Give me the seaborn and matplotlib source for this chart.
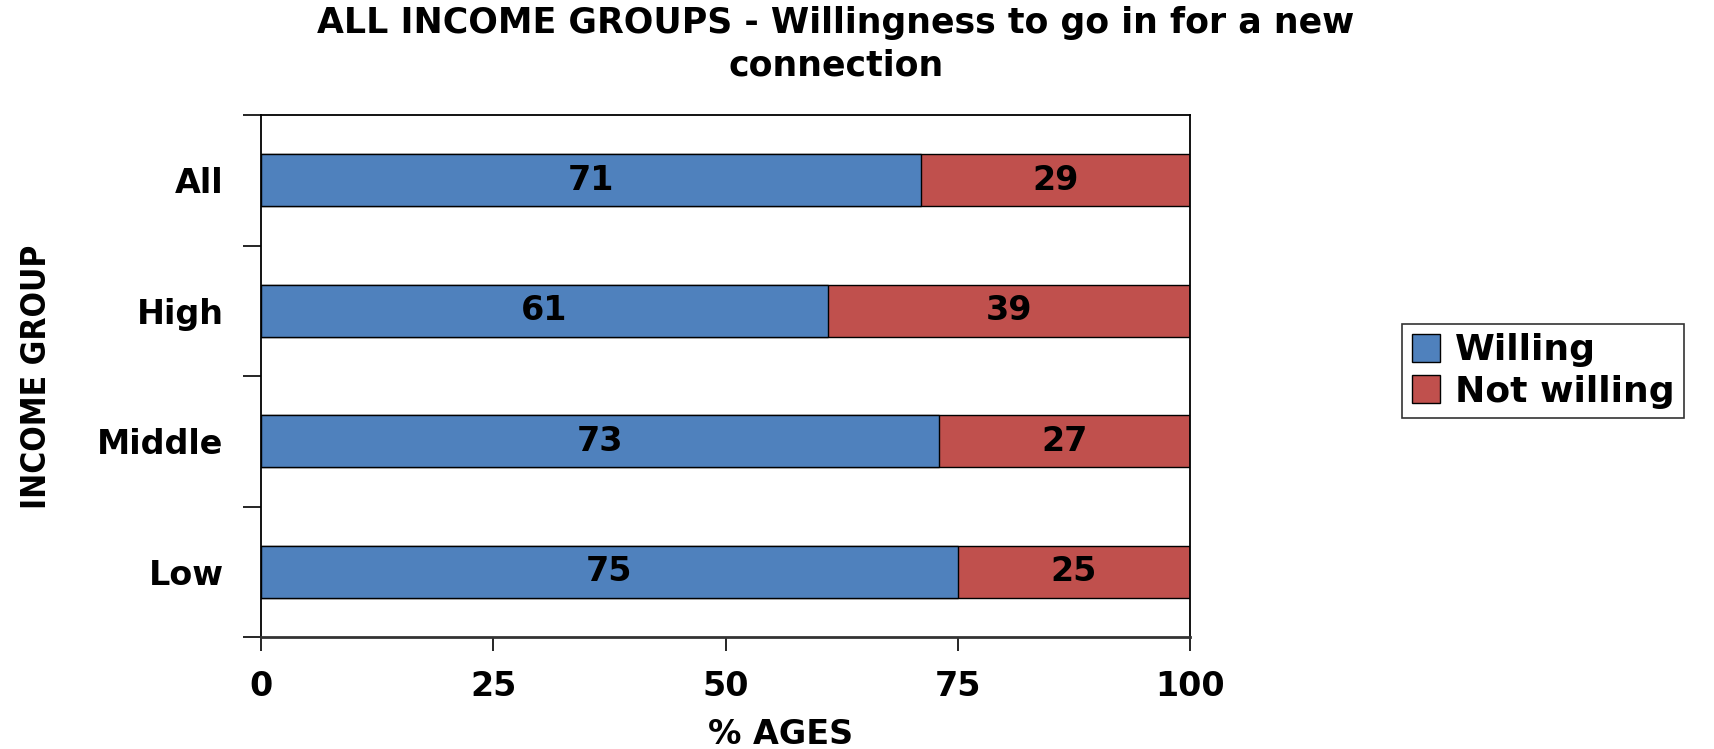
import matplotlib
matplotlib.use("Agg")
import matplotlib.pyplot as plt
import seaborn as sns
import pandas as pd

# Survey results by income group (percent of respondents)
groups = ["All", "High", "Middle", "Low"]
willing = [71, 61, 73, 75]
not_willing = [29, 39, 27, 25]
x_ticks = [0, 25, 50, 75, 100]

title = "ALL INCOME GROUPS - Willingness to go in for a new\nconnection"
blue = "#4F81BD"
red = "#C0504D"
fs = 24

sns.set_theme(style="white")
plt.rcParams["font.family"] = ["DejaVu Sans"]
plt.rcParams["font.weight"] = "bold"
plt.rcParams["text.color"] = "black"
plt.rcParams["xtick.color"] = "black"
plt.rcParams["ytick.color"] = "black"
plt.rcParams["axes.labelcolor"] = "black"

df = pd.DataFrame({"group": groups, "willing": willing, "not_willing": not_willing})
df["total"] = df["willing"] + df["not_willing"]

fig = plt.figure(figsize=(17.14, 7.49), dpi=100)
ax = fig.add_axes([261 / 1714, 1 - 637 / 749, (1190 - 261) / 1714, (637 - 115) / 749])

# stacked horizontal bars: full total in red, willing share drawn over it in blue
sns.barplot(data=df, x="total", y="group", orient="h", color=red, width=0.4,
            edgecolor="black", linewidth=1.0, saturation=1, ax=ax)
sns.barplot(data=df, x="willing", y="group", orient="h", color=blue, width=0.4,
            edgecolor="black", linewidth=1.0, saturation=1, ax=ax)

for i, (w, n) in enumerate(zip(willing, not_willing)):
    ax.text(w / 2, i, f"{w}", ha="center", va="center", fontsize=fs, fontweight="heavy", color="black")
    ax.text(w + n / 2, i, f"{n}", ha="center", va="center", fontsize=fs, fontweight="heavy", color="black")

ax.set_xlim(0, 100)
ax.set_ylim(len(groups) - 0.5, -0.5)
ax.set_xticks(x_ticks)
ax.set_xticklabels([str(t) for t in x_ticks], fontsize=fs, fontweight="bold")
ax.set_yticks(range(len(groups)))
ax.set_yticklabels(groups, fontsize=fs, fontweight="bold")
ax.set_yticks([i - 0.5 for i in range(len(groups) + 1)], minor=True)
ax.tick_params(axis="y", which="major", length=0, pad=27)
ax.tick_params(axis="y", which="minor", length=13, width=1.2, color="black", left=True)
ax.tick_params(axis="x", which="major", length=10, width=1.2, color="black", bottom=True, pad=14)
ax.set_xlabel("")
ax.set_ylabel("")
for side in ["left", "right", "top"]:
    ax.spines[side].set_visible(True)
    ax.spines[side].set_color("black")
    ax.spines[side].set_linewidth(1.3)
ax.spines["bottom"].set_color("#333333")
ax.spines["bottom"].set_linewidth(2.0)

fig.text(836 / 1714, 1 - 44 / 749, title, ha="center", va="center", fontsize=25,
         fontweight="bold", linespacing=1.3)
fig.text(781 / 1714, 1 - 734 / 749, "% AGES", ha="center", va="center", fontsize=fs,
         fontweight="bold")
fig.text(37 / 1714, 1 - 377 / 749, "INCOME GROUP", ha="center", va="center", rotation=90,
         fontsize=24, fontweight="bold", fontstretch="condensed",
         family=["Liberation Sans Narrow", "DejaVu Sans"])

handles = [plt.Rectangle((0, 0), 1, 1, facecolor=blue, edgecolor="black", linewidth=1),
           plt.Rectangle((0, 0), 1, 1, facecolor=red, edgecolor="black", linewidth=1)]
leg = fig.legend(handles, ["Willing", "Not willing"], loc="center",
                 bbox_to_anchor=(1543 / 1714, 1 - 371 / 749),
                 prop={"size": 26, "weight": "bold"}, frameon=True, fancybox=False,
                 edgecolor="black", handlelength=0.8, handleheight=0.8, handletextpad=0.4,
                 borderpad=0.25, labelspacing=0.2, borderaxespad=0)
leg.get_frame().set_linewidth(1.2)

fig.savefig("out.png", dpi=100)
